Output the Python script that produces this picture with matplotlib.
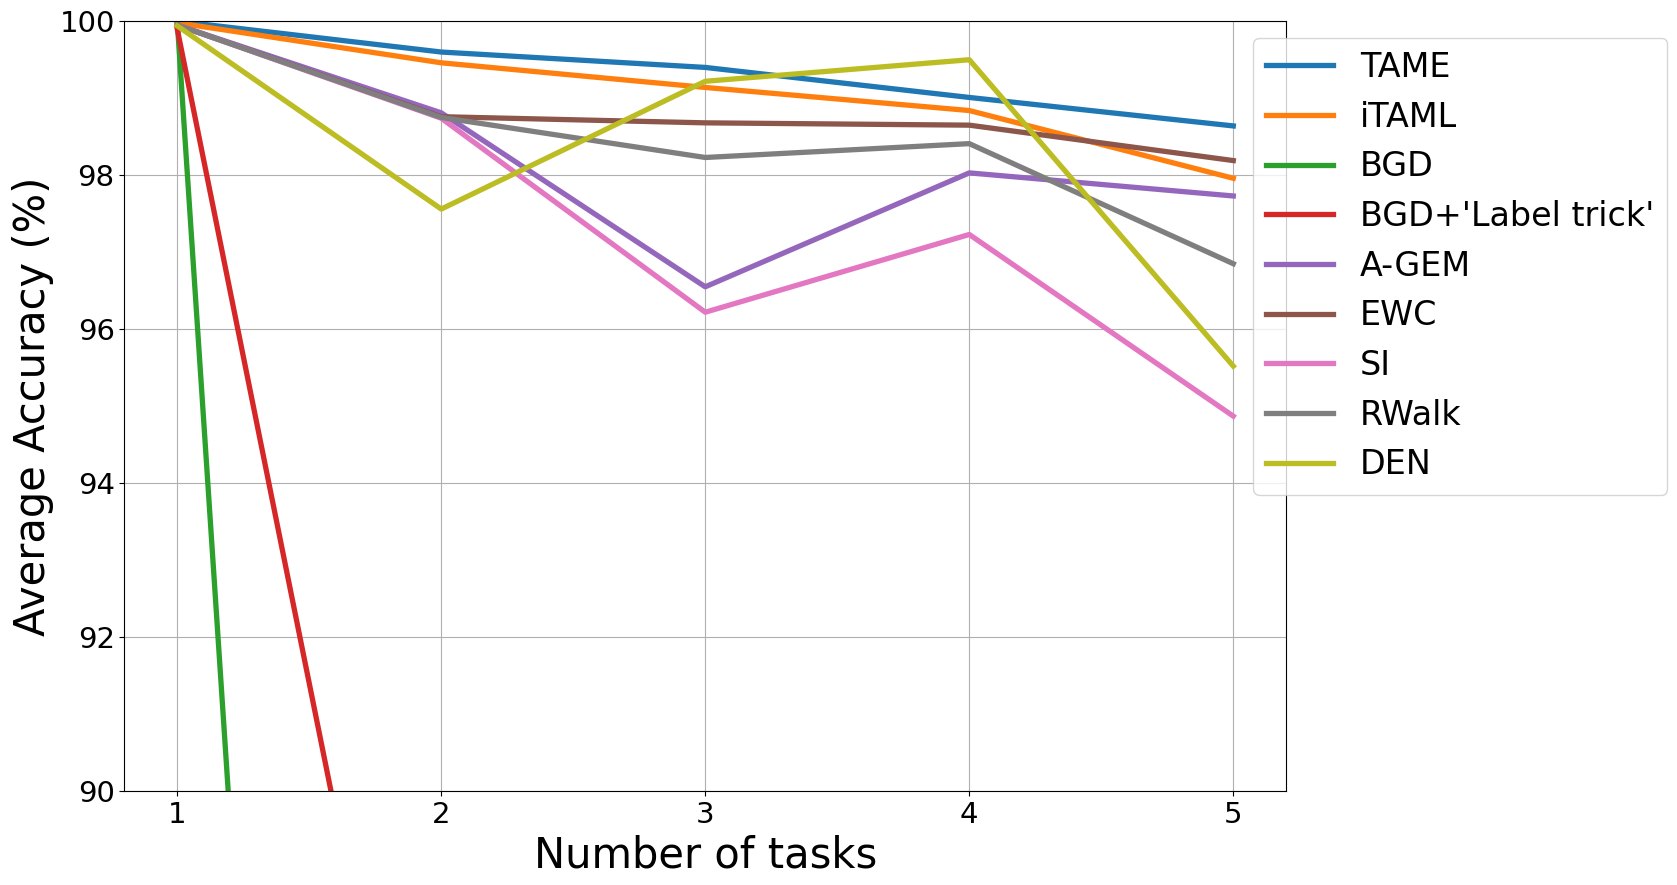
import numpy as np
import matplotlib
matplotlib.use("Agg")
import matplotlib.pyplot as plt

# Number of tasks on the x axis
tasks = [1, 2, 3, 4, 5]

# Average accuracy (%) per method
tame = [100.0, 99.60, 99.40, 99.01, 98.64]
itaml = [99.98, 99.46, 99.14, 98.84, 97.96]
bgd = [100.0, 48.2, 33.0, 25.0, 20.0]
bgd_label = [99.9, 82.9, 73.0, 65.0, 58.0]
agem = [99.95, 98.81, 96.55, 98.03, 97.73]
ewc = [99.95, 98.76, 98.68, 98.65, 98.19]
si = [99.95, 98.74, 96.22, 97.23, 94.87]
rwalk = [99.95, 98.75, 98.23, 98.41, 96.85]
den = [99.94, 97.56, 99.22, 99.50, 95.52]

labels = ["TAME", "iTAML", "BGD", "BGD+'Label trick'", "A-GEM",
          "EWC", "SI", "RWalk", "DEN"]
series = [tame, itaml, bgd, bgd_label, agem, ewc, si, rwalk, den]

fig, ax = plt.subplots(figsize=(16.77, 8.85), dpi=100)
fig.subplots_adjust(left=0.0742, right=0.7669, top=0.976, bottom=0.1062)

for vals, lab in zip(series, labels):
    ax.plot(tasks, vals, lw=3.8, label=lab)

ax.set_xlim(0.8, 5.2)
ax.set_ylim(90, 100)
ax.set_xticks(tasks)
ax.set_yticks([90, 92, 94, 96, 98, 100])
ax.tick_params(labelsize=21)
ax.grid(True)
ax.set_xlabel("Number of tasks", fontsize=30)
ax.set_ylabel("Average Accuracy (%)", fontsize=30)

ax.legend(loc="upper left", bbox_to_anchor=(0.9715, 0.9787), borderaxespad=0,
          fontsize=24)

fig.savefig("out.png", dpi=100)
